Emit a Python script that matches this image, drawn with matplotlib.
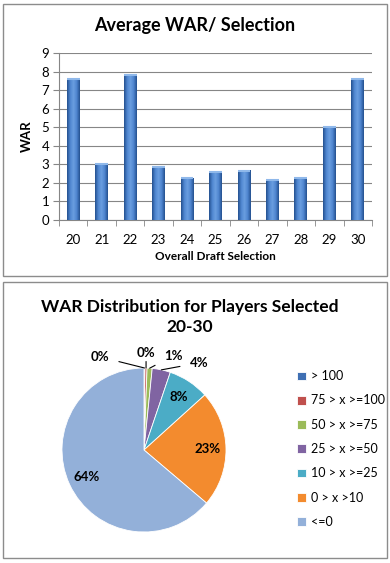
import numpy as np
import matplotlib.pyplot as plt
from matplotlib.patches import Rectangle
from matplotlib.colors import LinearSegmentedColormap

plt.rcParams['font.family'] = ['Lato', 'DejaVu Sans']

# data
picks = ['20', '21', '22', '23', '24', '25', '26', '27', '28', '29', '30']
avg_war = [7.6, 3.0, 7.8, 2.85, 2.25, 2.6, 2.65, 2.15, 2.25, 5.0, 7.6]

war_bins = ['> 100', '75 > x >=100', '50 > x >=75', '25 > x >=50',
            '10 > x >=25', '0 > x >10', '<=0']
war_share = [0.2, 0.4, 1.0, 3.6, 8.1, 22.9, 63.8]
pie_colors = ['#3f6fb3', '#c0504d', '#9bbb59', '#8064a2',
              '#4bacc6', '#f38b2e', '#93b0d9']

fig = plt.figure(figsize=(3.9, 5.63), dpi=100)
W, H = 390, 563

# outer frames of the two charts
for (x0, y0, x1, y1) in [(3, 4, 387, 276), (3, 282, 387, 558)]:
    fig.patches.append(Rectangle((x0 / W, 1 - y1 / H), (x1 - x0) / W, (y1 - y0) / H,
                                 transform=fig.transFigure, fill=False,
                                 edgecolor='#8c8c8c', linewidth=1.0))

# ---- bar chart ----
ax = fig.add_axes([59 / W, 1 - 220 / H, 313 / W, 167 / H])
x = np.arange(len(picks))
bars = ax.bar(x, avg_war, width=0.45, color='#3a6cb0', zorder=3)

grad = LinearSegmentedColormap.from_list('bar', ['#24508f', '#4f86d0', '#6a9ee0', '#4f86d0', '#24508f'])
g = np.linspace(0, 1, 64).reshape(1, -1)
for b in bars:
    ax.imshow(g, cmap=grad, aspect='auto', zorder=4,
              extent=(b.get_x(), b.get_x() + b.get_width(), 0, b.get_height()))
    ax.plot([b.get_x(), b.get_x() + b.get_width()], [b.get_height()] * 2,
            color='#8fb8ea', linewidth=1.5, zorder=5, solid_capstyle='butt')

ax.set_xlim(-0.5, len(picks) - 0.5)
ax.set_ylim(0, 9)
ax.set_yticks(range(0, 10))
ax.set_xticks(x)
ax.set_xticklabels(picks)
ax.set_xticks(np.arange(-0.5, len(picks)), minor=True)
ax.tick_params(axis='x', which='major', length=0, pad=10, labelsize=9.5)
ax.tick_params(axis='x', which='minor', length=4, color='#868686')
ax.tick_params(axis='y', length=4, color='#868686', labelsize=9.5, pad=3)
ax.yaxis.grid(True, color='#868686', linewidth=0.8, zorder=0)
for s in ['top', 'right']:
    ax.spines[s].set_visible(False)
for s in ['left', 'bottom']:
    ax.spines[s].set_color('#868686')
ax.set_ylabel('WAR', fontsize=9.5, fontweight='bold', labelpad=6)
ax.set_xlabel('Overall Draft Selection', fontsize=8.5, fontweight='bold', labelpad=4)
fig.text(195 / W, 1 - 26 / H, 'Average WAR/ Selection', ha='center', va='center',
         fontsize=13, fontweight='bold')

# ---- pie chart ----
pax = fig.add_axes([(144 - 102.5) / W, (H - 450 - 102.5) / H, 205 / W, 205 / H])
wedges, texts, autotexts = pax.pie(war_share, colors=pie_colors, startangle=90,
                                   counterclock=False, autopct='%.0f%%',
                                   pctdistance=0.77,
                                   wedgeprops=dict(edgecolor='white', linewidth=0.6),
                                   textprops=dict(fontsize=9.5, fontweight='bold'))
pax.set_xlim(-1.25, 1.25)
pax.set_ylim(-1.25, 1.25)

# small slices get labels outside with leader lines
offsets = [(-32, 8), (0, 11), (17, 9), (27, 5)]
for i, (dx, dy) in enumerate(offsets):
    w = wedges[i]
    ang = np.deg2rad((w.theta1 + w.theta2) / 2)
    px, py = np.cos(ang), np.sin(ang)
    autotexts[i].set_visible(False)
    pax.annotate(autotexts[i].get_text(), xy=(px, py), xytext=(dx, dy),
                 textcoords='offset points', ha='center', va='center',
                 fontsize=9.5, fontweight='bold',
                 arrowprops=dict(arrowstyle='-', color='black', linewidth=0.8,
                                 shrinkA=5, shrinkB=0))

pax.legend(wedges, war_bins, loc='center left', bbox_to_anchor=(291 / W, 1 - 449 / H),
           bbox_transform=fig.transFigure, frameon=False, fontsize=9,
           handlelength=0.7, handleheight=0.7, handletextpad=0.4, labelspacing=0.98,
           borderpad=0)

fig.text(190 / W, 1 - 317 / H, 'WAR Distribution for Players Selected\n20-30',
         ha='center', va='center', fontsize=12.5, fontweight='bold', linespacing=1.35)

fig.savefig('out.png', dpi=100)
